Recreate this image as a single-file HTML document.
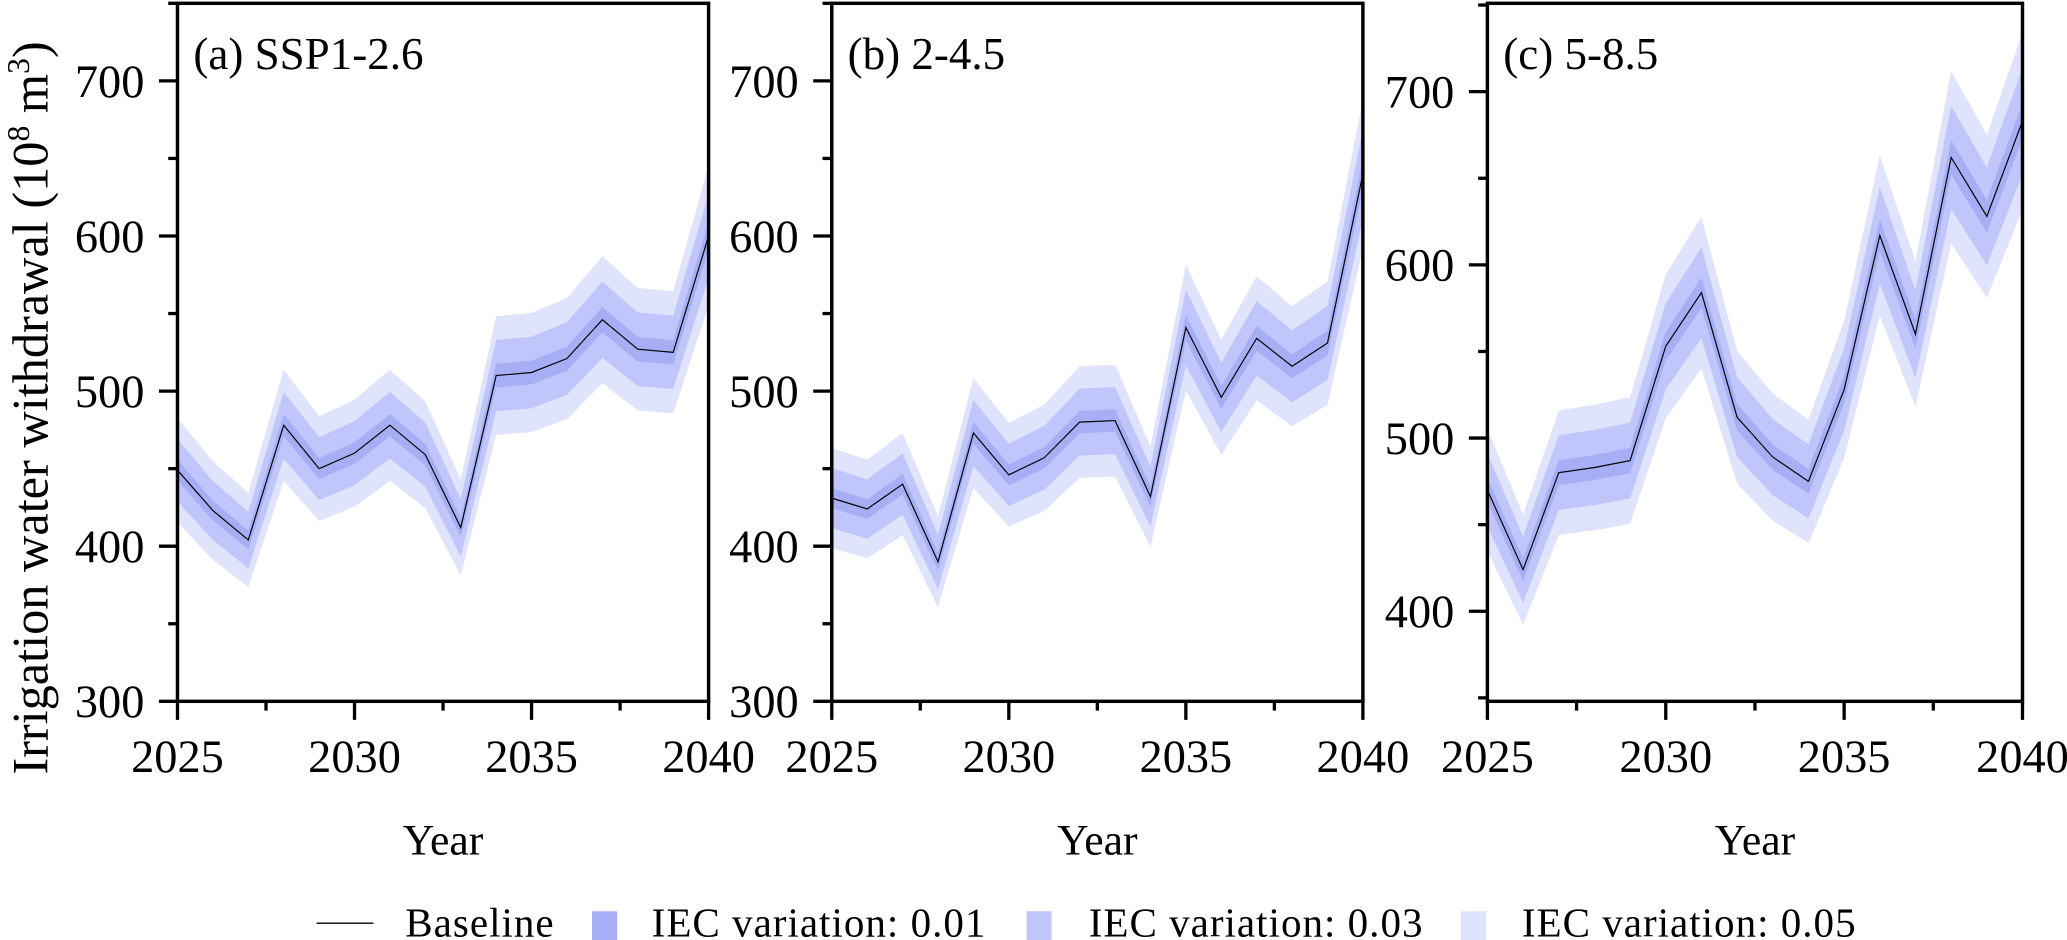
<!DOCTYPE html>
<html><head><meta charset="utf-8"><style>
body{margin:0;background:#fff;}
svg{display:block;font-family:"Liberation Serif",serif;}
</style></head><body>
<svg id="chart" width="2067" height="940" viewBox="0 0 1560.6 709.7" xmlns="http://www.w3.org/2000/svg">
<g id="root"></g>
<text transform="translate(36,308) rotate(-90)" text-anchor="middle" font-size="38">Irrigation water withdrawal (10<tspan dy="-14" font-size="24">8</tspan><tspan dy="14"> m</tspan><tspan dy="-14" font-size="24">3</tspan><tspan dy="14">)</tspan></text>
<g font-size="31">
<line x1="239" y1="697" x2="282" y2="697" stroke="#000" stroke-width="1"/>
<text x="306" y="707" textLength="112">Baseline</text>
<rect x="447" y="688" width="19" height="22" fill="#a6aff5"/>
<text x="492" y="707" textLength="252">IEC variation: 0.01</text>
<rect x="775" y="688" width="19" height="22" fill="#c0c6fb"/>
<text x="822" y="707" textLength="252">IEC variation: 0.03</text>
<rect x="1103" y="688" width="19" height="22" fill="#dfe3fc"/>
<text x="1149" y="707" textLength="252">IEC variation: 0.05</text>
</g>
</svg>
<script>
const years = [2025,2026,2027,2028,2029,2030,2031,2032,2033,2034,2035,2036,2037,2038,2039,2040];
const baselineA = [449,423,404,478,450,460,478,459,412,510,512,521,546,527,525,600];
const baselineB = [431,424,440,390,473,446,457,480,481,432,541,496,534,516,531,640];
const baselineC = [470,424,480,483,487,553,584,512,489,475,528,617,560,662,628,683];
const titles = ["(a) SSP1-2.6","(b) 2-4.5","(c) 5-8.5"];
const yTicksAB = [300,400,500,600,700];
const yTicksC = [400,500,600,700];
const xTicks = [2025,2030,2035,2040];
const xMinorTicks = [2027.5,2032.5,2037.5];
const variations = [0.05,0.03,0.01];
const bandSpread = [0.075,0.045,0.015];
const bandColors = ["#dfe3fc","#c0c6fb","#a6aff5"];

const NS="http://www.w3.org/2000/svg";
const root=document.getElementById('root');
function mk(tag,attrs,parent){const e=document.createElementNS(NS,tag);for(const k in attrs)e.setAttribute(k,attrs[k]);(parent||root).appendChild(e);return e;}

const panels=[
 {data:baselineA,x0:134,x1:535,yMin:300,yMax:750,ticks:yTicksAB,top:2.5,bottom:529.5,key:'a'},
 {data:baselineB,x0:628,x1:1029,yMin:300,yMax:750,ticks:yTicksAB,top:2.5,bottom:529.5,key:'b'},
 {data:baselineC,x0:1123,x1:1527,yMin:348,yMax:751,ticks:yTicksC,top:2.5,bottom:529.5,key:'c'}
];
panels.forEach((p,pi)=>{
 const g=mk('g',{});
 
 
 const xs=v=>p.x0+(v-years[0])/(years[years.length-1]-years[0])*(p.x1-p.x0);
 const ys=v=>p.bottom-(v-p.yMin)/(p.yMax-p.yMin)*(p.bottom-p.top);
 variations.forEach((vr,bi)=>{
  const up=p.data.map((v,i)=>xs(years[i])+','+ys(v*(1+bandSpread[bi])));
  const dn=p.data.map((v,i)=>xs(years[i])+','+ys(v*(1-bandSpread[bi]))).reverse();
  const poly=mk('polygon',{points:up.concat(dn).join(' '),fill:bandColors[bi]},g);
  
  
 });
 const line=mk('polyline',{points:p.data.map((v,i)=>xs(years[i])+','+ys(v)).join(' '),fill:'none',stroke:'#000','stroke-width':0.9},g);
 
 
 const fr=mk('rect',{x:p.x0,y:p.top,width:p.x1-p.x0,height:p.bottom-p.top,fill:'none',stroke:'#000','stroke-width':2.6},g);
 
 
 for(let v=Math.ceil(p.yMin/50)*50; v<=p.yMax; v+=50){
  const major=p.ticks.indexOf(v)>=0;
  const t=mk('line',{x1:p.x0,x2:p.x0-(major?14:7),y1:ys(v),y2:ys(v),stroke:'#000','stroke-width':2.5},g);
  
  
 }
 p.ticks.forEach(v=>{
  const t=mk('text',{x:p.x0-25,y:ys(v)+12,'text-anchor':'end','font-size':35},g);
  t.textContent=v;
  
  
 });
 xTicks.concat(xMinorTicks).forEach(yr=>{
  const major=xTicks.indexOf(yr)>=0;
  const t=mk('line',{x1:xs(yr),x2:xs(yr),y1:p.bottom,y2:p.bottom+(major?14:7),stroke:'#000','stroke-width':2.5},g);
  
  
 });
 xTicks.forEach(yr=>{
  const t=mk('text',{x:xs(yr),y:583,'text-anchor':'middle','font-size':35},g);
  t.textContent=yr;
  
  
 });
 const xt=mk('text',{x:(p.x0+p.x1)/2,y:645,'text-anchor':'middle','font-size':33},g);
 xt.textContent='Year';
 
 
 const ti=mk('text',{x:p.x0+12,y:52,'font-size':34},g);
 ti.textContent=titles[pi];
 
 
});
</script>
</body></html>
